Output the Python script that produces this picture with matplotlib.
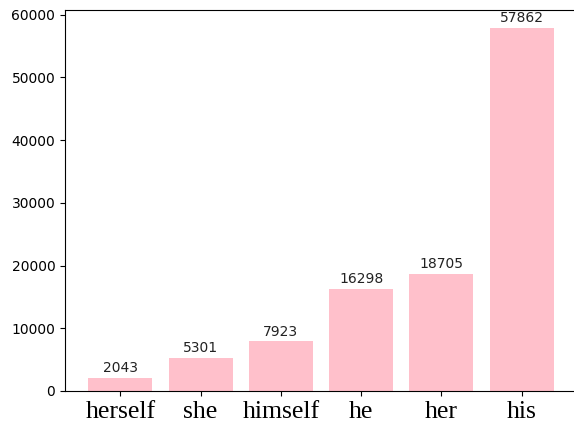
import matplotlib
matplotlib.use('Agg')
from matplotlib import pyplot as plt

words = ['herself', 'she', 'himself', 'he', 'her', 'his']
counts = [2043, 5301, 7923, 16298, 18705, 57862]

fig = plt.figure(figsize=(5.74, 4.23), dpi=100)
# the original image is cropped on the right, so the axes run past the edge
ax = fig.add_axes([0.1132, 0.0757, 0.892, 0.9007])
bars = ax.bar(words, counts, color='pink', width=0.8)
ax.bar_label(bars, labels=[str(c) for c in counts], padding=2, fontsize=10, color='#222222')
ax.set_xticks(range(len(words)))
ax.set_xticklabels(words, fontfamily='Liberation Serif', fontsize=18.5)
ax.spines['right'].set_visible(False)
fig.savefig('out.png', dpi=100)
